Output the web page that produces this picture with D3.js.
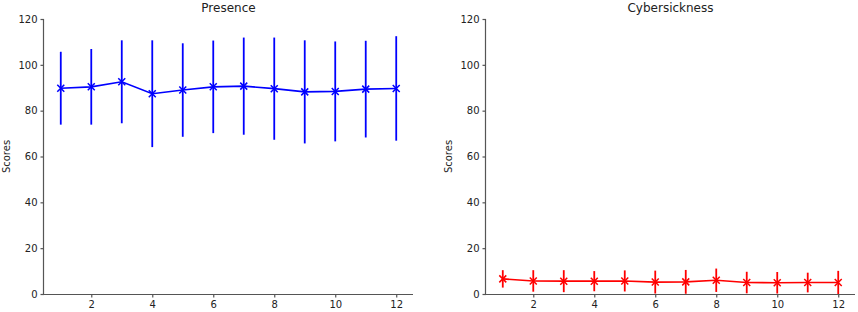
<!DOCTYPE html>
<html>
<head>
<meta charset="utf-8">
<script src="https://cdn.jsdelivr.net/npm/d3@7"></script>
<style>
  body { margin: 0; background: #fff; }
  svg text { font-family: "DejaVu Sans", sans-serif; fill: #222; }
  .axis path, .axis line { stroke: #555; }
</style>
</head>
<body>
<div id="chart"></div>
<script>
// sessions 1..12
const sessions = [1, 2, 3, 4, 5, 6, 7, 8, 9, 10, 11, 12];

const presenceMean = [89.8, 90.4, 92.6, 87.4, 89.0, 90.4, 90.7, 89.6, 88.2, 88.4, 89.4, 89.7];
const presenceSd   = [15.9, 16.5, 18.1, 23.3, 20.4, 20.2, 21.2, 22.3, 22.5, 21.8, 21.1, 22.8];

const cyberMean = [6.6, 5.7, 5.6, 5.6, 5.7, 5.2, 5.3, 6.0, 5.0, 4.9, 5.0, 5.0];
const cyberSd   = [3.8, 4.7, 4.8, 4.4, 4.6, 5.0, 5.2, 5.1, 4.7, 4.7, 4.3, 5.1];

const xTicks = [2, 4, 6, 8, 10, 12];
const yTicks = [0, 20, 40, 60, 80, 100, 120];

const width = 858, height = 312;

const svg = d3.select('#chart').append('svg')
    .attr('width', width)
    .attr('height', height);

function drawPanel(left, right, title, means, sds, color){
    let top = 19, bottom = 294;

    let x = d3.scaleLinear().domain([0.45, 12.55]).range([left, right]);
    let y = d3.scaleLinear().domain([0, 120]).range([bottom, top]);

    let g = svg.append('g');

    g.append('g').attr('class', 'axis')
        .attr('transform', 'translate(0,' + bottom + ')')
        .call(d3.axisBottom(x).tickValues(xTicks).tickSize(3.5).tickPadding(3))
        .call(a => a.selectAll('text').style('font-size', '10px'))
        .call(a => a.select('.domain').attr('d', 'M' + left + ',0.5H' + right));

    g.append('g').attr('class', 'axis')
        .attr('transform', 'translate(' + left + ',0)')
        .call(d3.axisLeft(y).tickValues(yTicks).tickSize(3.5).tickPadding(3))
        .call(a => a.selectAll('text').style('font-size', '10px'))
        .call(a => a.select('.domain').attr('d', 'M-0.5,' + top + 'V' + bottom));

    g.selectAll('.axis path, .axis line').attr('stroke', '#555').attr('stroke-width', 1.2);

    g.append('text')
        .attr('x', (left + right) / 2)
        .attr('y', 12)
        .attr('text-anchor', 'middle')
        .style('font-size', '12px')
        .text(title);

    g.append('text')
        .attr('transform', 'translate(' + (left - 34) + ',' + ((top + bottom) / 2) + ') rotate(-90)')
        .attr('text-anchor', 'middle')
        .style('font-size', '10px')
        .text('Scores');

    // clip marks to the plot area like matplotlib does
    let clipId = 'clip' + Math.round(left);
    svg.append('clipPath').attr('id', clipId)
        .append('rect')
        .attr('x', left).attr('y', top)
        .attr('width', right - left).attr('height', bottom - top);

    let plot = g.append('g').attr('clip-path', 'url(#' + clipId + ')');

    let data = sessions.map((s, i) => ({s: s, m: means[i], sd: sds[i]}));

    // error bars
    plot.selectAll('.err').data(data).enter()
        .append('line')
        .attr('x1', d => x(d.s)).attr('x2', d => x(d.s))
        .attr('y1', d => y(d.m - d.sd)).attr('y2', d => y(d.m + d.sd))
        .attr('stroke', color)
        .attr('stroke-width', 1.8);

    let line = d3.line().x(d => x(d.s)).y(d => y(d.m));

    plot.append('path')
        .attr('d', line(data))
        .attr('fill', 'none')
        .attr('stroke', color)
        .attr('stroke-width', 1.6);

    // x markers
    let r = 3.5;
    plot.selectAll('.mark').data(data).enter()
        .append('path')
        .attr('d', d => {
            let cx = x(d.s), cy = y(d.m);
            return 'M' + (cx - r) + ',' + (cy - r) + 'L' + (cx + r) + ',' + (cy + r) +
                   'M' + (cx - r) + ',' + (cy + r) + 'L' + (cx + r) + ',' + (cy - r);
        })
        .attr('stroke', color)
        .attr('stroke-width', 1.5);
}

drawPanel(44, 413, 'Presence', presenceMean, presenceSd, '#0000ff');
drawPanel(486, 855, 'Cybersickness', cyberMean, cyberSd, '#ff0000');
</script>
</body>
</html>
